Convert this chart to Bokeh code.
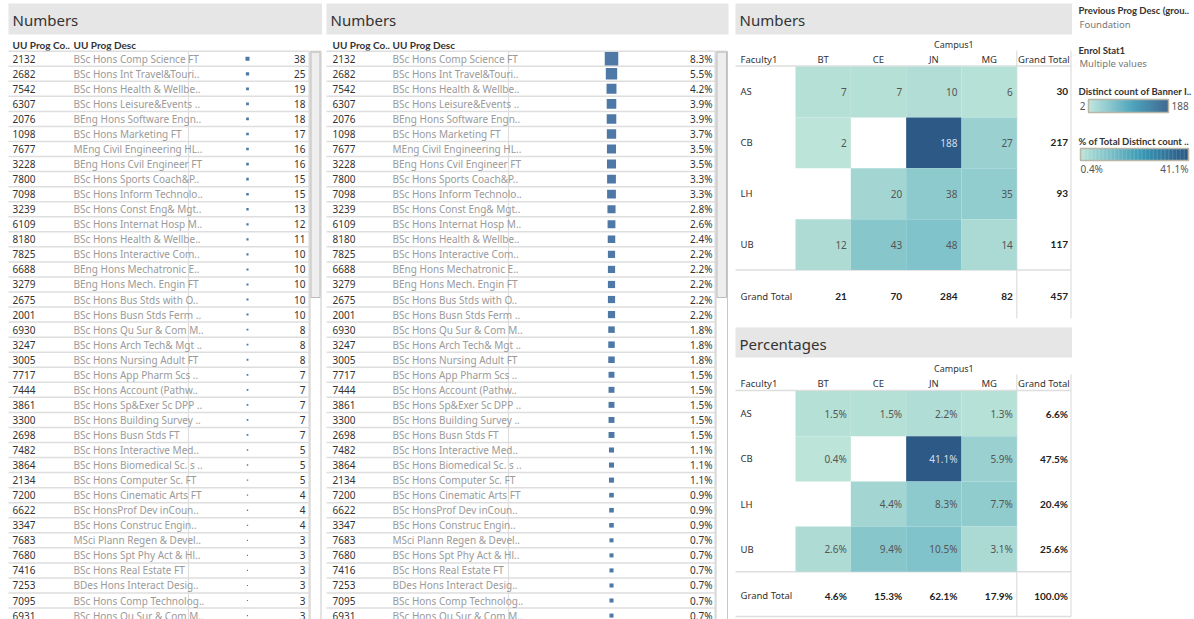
from bokeh.plotting import figure
from bokeh.models import Range1d, ColumnDataSource
from bokeh.embed import file_html
from bokeh.resources import INLINE
from bokeh.core.properties import value

# ---------------- data ----------------
prog_codes = ["2132", "2682", "7542", "6307", "2076", "1098", "7677", "3228", "7800", "7098",
              "3239", "6109", "8180", "7825", "6688", "3279", "2675", "2001", "6930", "3247",
              "3005", "7717", "7444", "3861", "3300", "2698", "7482", "3864", "2134", "7200",
              "6622", "3347", "7683", "7680", "7416", "7253", "7095", "6931"]
prog_desc = ["BSc Hons Comp  Science FT", "BSc Hons Int Travel&Touri..", "BSc Hons Health & Wellbe..",
             "BSc Hons Leisure&Events ..", "BEng Hons Software Engn..", "BSc Hons Marketing FT",
             "MEng Civil Engineering HL..", "BEng Hons Cvil Engineer FT", "BSc Hons Sports Coach&P..",
             "BSc Hons Inform Technolo..", "BSc Hons Const Eng& Mgt..", "BSc Hons Internat Hosp M..",
             "BSc Hons Health & Wellbe..", "BSc Hons Interactive Com..", "BEng Hons Mechatronic E..",
             "BEng Hons Mech. Engin FT", "BSc Hons Bus Stds with O..", "BSc Hons Busn Stds Ferm ..",
             "BSc Hons Qu Sur & Com M..", "BSc Hons Arch Tech& Mgt ..", "BSc Hons Nursing Adult FT",
             "BSc Hons App Pharm Scs ..", "BSc Hons Account (Pathw..", "BSc Hons Sp&Exer Sc DPP ..",
             "BSc Hons Building Survey ..", "BSc Hons Busn Stds FT", "BSc Hons Interactive Med..",
             "BSc Hons Biomedical Sc. s ..", "BSc Hons Computer Sc. FT", "BSc Hons Cinematic Arts FT",
             "BSc HonsProf Dev inCoun..", "BSc Hons Construc Engin..", "MSci Plann Regen & Devel..",
             "BSc Hons Spt Phy Act & Hl..", "BSc Hons Real Estate FT", "BDes Hons Interact Desig..",
             "BSc Hons Comp Technolog..", "BSc Hons Qu Sur & Com M.."]
prog_counts = [38, 25, 19, 18, 18, 17, 16, 16, 15, 15, 13, 12, 11, 10, 10, 10, 10, 10, 8, 8,
               8, 7, 7, 7, 7, 7, 5, 5, 5, 4, 4, 4, 3, 3, 3, 3, 3, 3]
prog_pcts = [8.3, 5.5, 4.2, 3.9, 3.9, 3.7, 3.5, 3.5, 3.3, 3.3, 2.8, 2.6, 2.4, 2.2, 2.2, 2.2, 2.2, 2.2,
             1.8, 1.8, 1.8, 1.5, 1.5, 1.5, 1.5, 1.5, 1.1, 1.1, 1.1, 0.9, 0.9, 0.9, 0.7, 0.7, 0.7,
             0.7, 0.7, 0.7]

faculties = ["AS", "CB", "LH", "UB"]
campuses = ["BT", "CE", "JN", "MG"]
count_AS = [7, 7, 10, 6]
count_CB = [2, None, 188, 27]
count_LH = [None, 20, 38, 35]
count_UB = [12, 43, 48, 14]
count_row_totals = [30, 217, 93, 117]
count_col_totals = [21, 70, 284, 82]
count_grand_total = 457
pct_AS = [1.5, 1.5, 2.2, 1.3]
pct_CB = [0.4, None, 41.1, 5.9]
pct_LH = [None, 4.4, 8.3, 7.7]
pct_UB = [2.6, 9.4, 10.5, 3.1]
pct_row_totals = [6.6, 47.5, 20.4, 25.6]
pct_col_totals = [4.6, 15.3, 62.1, 17.9]
pct_grand_total = 100.0

# ---------------- styles ----------------
FONT = "Noto Sans"
HFONT = "Lato"
DARK = "#333333"
GREY_TXT = "#9a9a9a"
LINE = "#dedede"
BAR = "#4e79a7"
TITLE_BG = "#e6e6e6"
BLUE_TEAL = ["#bce4d8", "#aedcd5", "#a1d5d2", "#95cecf", "#89c8cc", "#7ec1ca", "#72bac6",
             "#66b2c2", "#59acbe", "#4ba5ba", "#419eb6", "#3b96b2", "#358ead", "#3586a7",
             "#347ea1", "#32779b", "#316f96", "#2f6790", "#2d608a", "#2c5985"]


def hex2rgb(h):
    return tuple(int(h[i:i + 2], 16) for i in (1, 3, 5))


def ramp(t):
    t = min(max(t, 0.0), 1.0) * (len(BLUE_TEAL) - 1)
    i = min(int(t), len(BLUE_TEAL) - 2)
    f = t - i
    a, b = hex2rgb(BLUE_TEAL[i]), hex2rgb(BLUE_TEAL[i + 1])
    return "#%02x%02x%02x" % tuple(round(a[k] + (b[k] - a[k]) * f) for k in range(3))


W, H = 1194, 619
p = figure(width=W, height=H, output_backend="svg", toolbar_location=None,
           x_range=Range1d(0, W), y_range=Range1d(H, 0),
           min_border=0, outline_line_color=None, background_fill_color="white")
p.axis.visible = False
p.grid.visible = False


def txt(xs, ys, ts, size="10px", color=DARK, align="left", style="normal", font=FONT):
    src = ColumnDataSource(dict(x=list(xs), y=list(ys), t=list(ts)))
    p.text(x="x", y="y", text="t", source=src, text_font=value(font), text_font_size=size,
           text_color=color, text_align=align, text_baseline="middle", text_font_style=style)


def segs(x0, y0, x1, y1, color=LINE, width=1.0):
    src = ColumnDataSource(dict(x0=list(x0), y0=list(y0), x1=list(x1), y1=list(y1)))
    p.segment(x0="x0", y0="y0", x1="x1", y1="y1", source=src, line_color=color, line_width=width)


def title_bar(left, right, top, bottom, label, tx, ty):
    p.quad(left=[left], right=[right], top=[top], bottom=[bottom], fill_color=TITLE_BG, line_color=None)
    txt([tx], [ty], [label], size="15px", color=DARK)


# ---------------- program tables ----------------
ROW0 = 50.7
ROWH = 15.05
n = len(prog_codes)
row_y = [ROW0 + ROWH * (i + 0.5) for i in range(n)]
row_lines = [ROW0 + ROWH * i for i in range(n + 1)]


def prog_table(xl, x_code, x_desc, x_div, x_bar, x_val, x_right, title_right, values, labels, scale):
    title_bar(xl, title_right, 3, 34, "Numbers", xl + 4, 19)
    txt([x_code, x_desc], [44, 44], ["UU Prog Co..", "UU Prog Desc"], size="10px", style="bold",
        font=HFONT)
    segs([xl] * len(row_lines), row_lines, [x_right] * len(row_lines), row_lines, width=1.5)
    segs([x_div, x_right], [ROW0, ROW0], [x_div, x_right], [700, 700], width=1.2)
    txt([x_code] * n, row_y, prog_codes, size="10px", color=DARK)
    txt([x_desc] * n, row_y, prog_desc, size="10px", color=GREY_TXT)
    sides = [min(scale * v ** 0.5, 13.5) for v in values]
    src = ColumnDataSource(dict(x=[x_bar] * n, y=row_y, s=sides))
    p.rect(x="x", y="y", width="s", height="s", source=src, fill_color=BAR, line_color=None)
    txt([x_val] * n, row_y, labels, size="10px", color=DARK, align="right")
    # scrollbar
    p.quad(left=[x_right + 1], right=[title_right - 1], top=[ROW0], bottom=[700],
           fill_color="white", line_color="#c8c8c8", line_width=1)
    p.quad(left=[x_right + 2], right=[title_right - 2], top=[ROW0 + 1], bottom=[297],
           fill_color="#eeeeee", line_color="#bdbdbd", line_width=1)


prog_table(8, 12, 73, 188, 247, 305, 308.5, 321.5, prog_counts,
           [str(v) for v in prog_counts], 0.65)
prog_table(326, 332, 392, 508, 611, 712, 714.5, 728, prog_pcts,
           ["%.1f%%" % v for v in prog_pcts], 4.85)

# ---------------- crosstabs ----------------
COL_L = 795.0
COL_W = 55.33
GT_L, GT_R = 1016.3, 1070.5
col_centers = [COL_L + COL_W * (j + 0.5) for j in range(4)]


def crosstab(top_title, bottom_title, title, y_title, y_campus, y_head, row_top, row_h, y_gt, bottom,
             bottom_line, rows, row_tot, col_tot, grand, fmt, vmin, vmax):
    title_bar(735, 1071.5, top_title, bottom_title, title, 739, y_title)
    txt([933.5], [y_campus], ["Campus1"], size="9px")
    txt([740], [y_head], ["Faculty1"], size="9.5px")
    txt(col_centers, [y_head] * 4, campuses, size="9.5px", align="center")
    txt([1043.4], [y_head], ["Grand Total"], size="9.5px", align="center")
    head_line = row_top - 0.5
    body_bottom = row_top + 4 * row_h
    hl = [head_line, body_bottom] + ([bottom] if bottom_line else [])
    segs([735] * len(hl), hl, [GT_R] * len(hl), hl, width=1.5)
    segs([GT_L, GT_R], [y_head - 9, y_head - 9], [GT_L, GT_R], [bottom, bottom], width=1.2)
    L, R, T, B, C, X, Y, TX, TC = [], [], [], [], [], [], [], [], []
    for i, vals in enumerate(rows):
        for j, v in enumerate(vals):
            if v is None:
                continue
            t = (v - vmin) / (vmax - vmin)
            L.append(COL_L + COL_W * j)
            R.append(COL_L + COL_W * (j + 1))
            T.append(row_top + row_h * i)
            B.append(row_top + row_h * (i + 1))
            C.append(ramp(t))
            X.append(COL_L + COL_W * (j + 1) - 4)
            Y.append(row_top + row_h * (i + 0.5))
            TX.append(fmt(v))
            TC.append("#d5dee8" if t > 0.6 else "#555555")
    p.quad(left=L, right=R, top=T, bottom=B, fill_color=C, line_color=None)
    src = ColumnDataSource(dict(x=X, y=Y, t=TX, c=TC))
    p.text(x="x", y="y", text="t", text_color="c", source=src, text_font=value(FONT),
           text_font_size="10px", text_align="right", text_baseline="middle")
    ry = [row_top + row_h * (i + 0.5) for i in range(4)]
    txt([740] * 4, ry, faculties, size="9.5px")
    txt([1067.5] * 4, ry, [fmt(v) for v in row_tot], size="10px", color="#222222",
        style="bold", align="right", font=HFONT)
    txt([740], [y_gt], ["Grand Total"], size="9.5px")
    txt([c + COL_W / 2 - 4 for c in col_centers], [y_gt] * 4, [fmt(v) for v in col_tot],
        size="10px", color="#222222", style="bold", align="right", font=HFONT)
    txt([1067.5], [y_gt], [fmt(grand)], size="10px", color="#222222", style="bold", align="right",
        font=HFONT)


crosstab(3, 34, "Numbers", 19, 44, 59, 66, 50.9, 295.5, 318, False,
         [count_AS, count_CB, count_LH, count_UB], count_row_totals, count_col_totals,
         count_grand_total, lambda v: str(v), 2, 188)
crosstab(327, 357, "Percentages", 343, 368, 383, 390.5, 45.2, 595, 616, True,
         [pct_AS, pct_CB, pct_LH, pct_UB], pct_row_totals, pct_col_totals,
         pct_grand_total, lambda v: "%.1f%%" % v, 0.4, 41.1)

# ---------------- legends ----------------
txt([1078], [10], ["Previous Prog Desc (grou.."], size="9.5px", style="bold", font=HFONT)
txt([1079], [23.5], ["Foundation"], size="9.5px", color="#777777")
txt([1078], [49.5], ["Enrol Stat1"], size="9.5px", style="bold", font=HFONT)
txt([1079], [62.5], ["Multiple values"], size="9.5px", color="#777777")
txt([1078], [90.5], ["Distinct count of Banner I.."], size="9.5px", style="bold", font=HFONT)
txt([1078], [140.5], ["% of Total Distinct count .."], size="9.5px", style="bold", font=HFONT)


def gradient(x0, x1, y0, y1, steps=80):
    w = (x1 - x0) / steps
    p.quad(left=[x0 + w * k for k in range(steps)], right=[x0 + w * (k + 1) + 0.3 for k in range(steps)],
           top=[y0] * steps, bottom=[y1] * steps,
           fill_color=[ramp(k / (steps - 1)) for k in range(steps)], line_color=None)
    p.quad(left=[x0], right=[x1], top=[y0], bottom=[y1], fill_color=None,
           line_color="#b9b6a8", line_width=1.5)


gradient(1088, 1168, 99, 112)
txt([1085], [105.5], [str(2)], size="10px", color="#555555", align="right")
txt([1171], [105.5], [str(188)], size="10px", color="#555555")
gradient(1080, 1188, 148, 160)
txt([1080], [168], ["%.1f%%" % 0.4], size="10px", color="#555555")
txt([1188], [168], ["%.1f%%" % 41.1], size="10px", color="#555555", align="right")

open("out.html", "w").write(file_html(p, INLINE))
